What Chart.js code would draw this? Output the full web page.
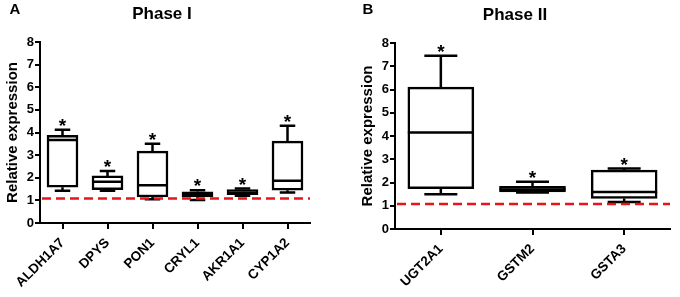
<!DOCTYPE html>
<html>
<head>
<meta charset="utf-8">
<script src="https://cdn.jsdelivr.net/npm/chart.js@4.4.0/dist/chart.umd.min.js"></script>
<style>
  body { margin: 0; background: #fff; }
  #wrap { position: relative; width: 680px; height: 297px; }
  canvas { position: absolute; top: 0; }
</style>
</head>
<body>
<div id="wrap">
  <canvas id="chartA" width="340" height="297" style="left:0"></canvas>
  <canvas id="chartB" width="340" height="297" style="left:340px"></canvas>
</div>
<script>
// Phase I genes (panel A)
var phase1Genes  = ['ALDH1A7', 'DPYS', 'PON1', 'CRYL1', 'AKR1A1', 'CYP1A2'];
var phase1Min    = [1.42, 1.43, 1.05, 1.02, 1.20, 1.35];
var phase1Q1     = [1.58, 1.47, 1.15, 1.15, 1.25, 1.45];
var phase1Median = [3.67, 1.82, 1.67, 1.28, 1.33, 1.87];
var phase1Q3     = [3.88, 2.08, 3.18, 1.38, 1.48, 3.62];
var phase1Max    = [4.12, 2.30, 3.50, 1.45, 1.52, 4.30];

// Phase II genes (panel B)
var phase2Genes  = ['UGT2A1', 'GSTM2', 'GSTA3'];
var phase2Min    = [1.50, 1.57, 1.16];
var phase2Q1     = [1.73, 1.60, 1.31];
var phase2Median = [4.15, 1.70, 1.59];
var phase2Q3     = [6.10, 1.83, 2.53];
var phase2Max    = [7.45, 2.03, 2.60];

var yMin = 0, yMax = 8, yStep = 1;
var baselineValue = 1.08;

var FONT = "'Liberation Sans', Arial, Helvetica, sans-serif";

var boxParts = {
  id: 'boxParts',
  afterDatasetsDraw: function(chart) {
    var o = chart.options.plugins.boxParts;
    var ctx = chart.ctx, y = chart.scales.y, area = chart.chartArea;
    var bars = chart.getDatasetMeta(0).data;
    ctx.save();
    ctx.strokeStyle = '#000';
    ctx.lineWidth = 2.5;
    bars.forEach(function(bar, i) {
      var cx = bar.x, half = bar.width / 2, cap = bar.width / 4;
      var pMin = y.getPixelForValue(o.min[i]);
      var pQ1 = y.getPixelForValue(o.q1[i]);
      var pMed = y.getPixelForValue(o.median[i]);
      var pQ3 = y.getPixelForValue(o.q3[i]);
      var pMax = y.getPixelForValue(o.max[i]);
      ctx.beginPath();
      ctx.moveTo(cx, pQ3); ctx.lineTo(cx, pMax);
      ctx.moveTo(cx - cap, pMax); ctx.lineTo(cx + cap, pMax);
      ctx.moveTo(cx, pQ1); ctx.lineTo(cx, pMin);
      ctx.moveTo(cx - cap, pMin); ctx.lineTo(cx + cap, pMin);
      ctx.moveTo(cx - half, pMed); ctx.lineTo(cx + half, pMed);
      ctx.stroke();
      ctx.fillStyle = '#000';
      ctx.font = 'bold 19px ' + FONT;
      ctx.textAlign = 'center';
      ctx.textBaseline = 'alphabetic';
      ctx.fillText('*', cx, pMax + 2);
    });
    // red dashed reference line
    var pb = y.getPixelForValue(baselineValue);
    ctx.strokeStyle = '#e8141b';
    ctx.lineWidth = 2.5;
    ctx.setLineDash([9, 5]);
    ctx.beginPath();
    ctx.moveTo(area.left + 2, pb);
    ctx.lineTo(area.right, pb);
    ctx.stroke();
    ctx.restore();
  },
  afterDraw: function(chart) {
    var o = chart.options.plugins.boxParts;
    var ctx = chart.ctx;
    ctx.save();
    ctx.fillStyle = '#000';
    ctx.textBaseline = 'middle';
    ctx.textAlign = 'center';
    ctx.font = 'bold 15px ' + FONT;
    ctx.fillText(o.letter, o.letterX, 10);
    ctx.font = 'bold 17px ' + FONT;
    ctx.fillText(o.title, o.titleX, o.titleY);
    ctx.restore();
  }
};

function makeChart(id, genes, mins, q1s, meds, q3s, maxs, cfg) {
  var boxes = genes.map(function(g, i) { return [q1s[i], q3s[i]]; });
  return new Chart(document.getElementById(id), {
    type: 'bar',
    data: {
      labels: genes,
      datasets: [{
        data: boxes,
        backgroundColor: '#fff',
        borderColor: '#000',
        borderWidth: 2.5,
        borderSkipped: false,
        barThickness: cfg.boxWidth
      }]
    },
    options: {
      responsive: false,
      animation: false,
      devicePixelRatio: 1,
      layout: { padding: cfg.padding },
      plugins: {
        legend: { display: false },
        tooltip: { enabled: false },
        boxParts: {
          min: mins, q1: q1s, median: meds, q3: q3s, max: maxs,
          letter: cfg.letter, letterX: cfg.letterX,
          title: cfg.title, titleX: cfg.titleX, titleY: cfg.titleY
        }
      },
      scales: {
        x: {
          offset: true,
          grid: { offset: false, drawOnChartArea: false, tickLength: 6, color: '#000', lineWidth: 2 },
          border: { color: '#000', width: 2 },
          ticks: {
            color: '#000', autoSkip: false, minRotation: 45, maxRotation: 45, padding: 6,
            font: { family: FONT, size: 13.5, weight: 'bold' }
          },
          afterFit: function(s) { s.height = cfg.xHeight; }
        },
        y: {
          min: yMin, max: yMax,
          ticks: { stepSize: yStep, color: '#000', padding: 1, font: { family: FONT, size: 13, weight: 'bold' } },
          grid: { drawOnChartArea: false, tickLength: 5, color: '#000', lineWidth: 2 },
          border: { color: '#000', width: 2 },
          title: {
            display: true, text: 'Relative expression', color: '#000',
            font: { family: FONT, size: 15, weight: 'bold' }, padding: { top: 4, bottom: 0 }
          },
          afterFit: function(s) { s.width = 40; }
        }
      }
    },
    plugins: [boxParts]
  });
}

makeChart('chartA', phase1Genes, phase1Min, phase1Q1, phase1Median, phase1Q3, phase1Max, {
  boxWidth: 31, padding: { left: 0, right: 30, top: 42, bottom: 0 }, xHeight: 74,
  letter: 'A', letterX: 15, title: 'Phase I', titleX: 162, titleY: 14
});
makeChart('chartB', phase2Genes, phase2Min, phase2Q1, phase2Median, phase2Q3, phase2Max, {
  boxWidth: 66, padding: { left: 15, right: 10, top: 43, bottom: 0 }, xHeight: 68,
  letter: 'B', letterX: 28, title: 'Phase II', titleX: 175, titleY: 15
});
</script>
</body>
</html>
